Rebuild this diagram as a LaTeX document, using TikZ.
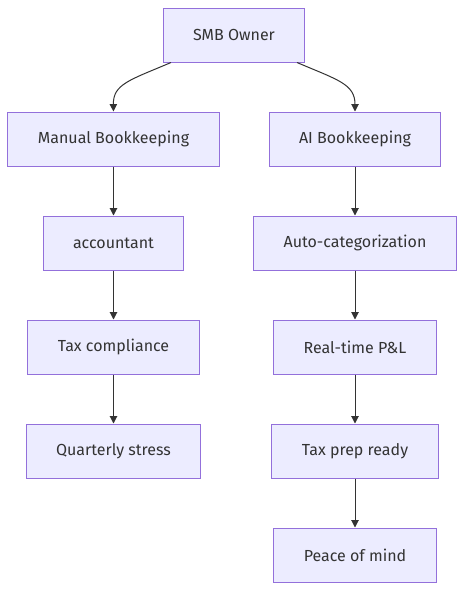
\documentclass[tikz,border=0pt]{standalone}
\usepackage{fontspec}
\setmainfont{Fira Sans}
\usepackage{tikz}
\usetikzlibrary{arrows.meta}
\definecolor{boxfill}{HTML}{ECECFF}
\definecolor{boxline}{HTML}{9370DB}
\definecolor{ink}{HTML}{333333}
\tikzstyle{step node}=[rectangle, draw=boxline, fill=boxfill, line width=0.75pt, text=ink, font=\fontsize{12pt}{14pt}\selectfont, minimum height=40.5pt, inner xsep=22.5pt]
\tikzstyle{flow}=[draw=ink, line width=0.75pt, -{Triangle[length=5.5pt,width=5.5pt]}]

\begin{document}
\begin{tikzpicture}[x=0.75pt, y=-0.75pt]
            \useasboundingbox (0,0) rectangle (465,590);
            % Nodo de arriba
            \node[step node] (owner) at (234,35) {SMB Owner};
            % Rama manual
            \node[step node] (manual) at (113.5,139) {Manual Bookkeeping};
            \node[step node] (acct) at (113.5,243) {accountant};
            \node[step node] (taxc) at (113.5,347) {Tax compliance};
            \node[step node] (stress) at (113.5,451) {Quarterly stress};
            % Rama IA
            \node[step node] (ai) at (355,139) {AI Bookkeeping};
            \node[step node] (auto) at (355,243) {Auto-categorization};
            \node[step node] (pl) at (355,347) {Real-time P\&L};
            \node[step node] (prep) at (355,451) {Tax prep ready};
            \node[step node] (peace) at (355,555) {Peace of mind};
            % Flechas
            \draw[flow] ([xshift=-47.25pt]owner.south) .. controls (130,80) and (113,84) .. (manual.north);
            \draw[flow] ([xshift=47.25pt]owner.south) .. controls (338,80) and (355,84) .. (ai.north);
            \draw[flow] (manual) -- (acct);
            \draw[flow] (acct) -- (taxc);
            \draw[flow] (taxc) -- (stress);
            \draw[flow] (ai) -- (auto);
            \draw[flow] (auto) -- (pl);
            \draw[flow] (pl) -- (prep);
            \draw[flow] (prep) -- (peace);
\end{tikzpicture}
\end{document}
